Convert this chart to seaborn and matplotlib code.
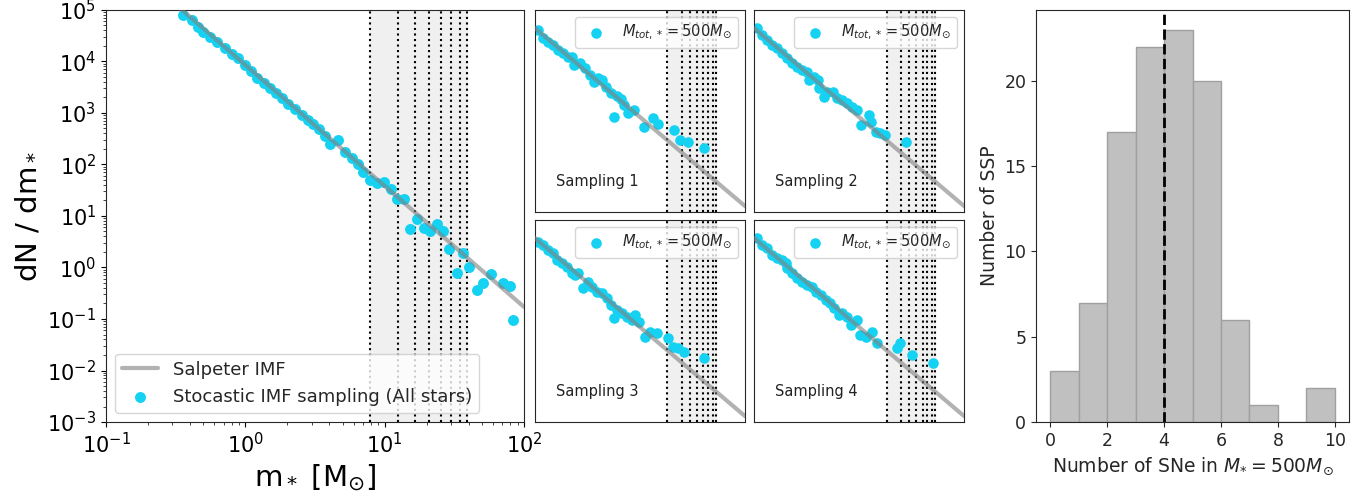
import matplotlib
matplotlib.use("Agg")
import matplotlib.pyplot as plt
from matplotlib.ticker import LogLocator
import numpy as np
import pandas as pd
import seaborn as sns

# ---- data (log10 of mass and of dN/dm) ----
log_m_all = [-0.445, -0.385, -0.338, -0.302, -0.254, -0.201, -0.146, -0.098, -0.050, -0.002,
             0.039, 0.086, 0.134, 0.177, 0.220, 0.261, 0.308, 0.356, 0.405, 0.452,
             0.488, 0.531, 0.572, 0.608, 0.667, 0.715, 0.763, 0.811, 0.847, 0.895,
             0.943, 0.995, 1.043, 1.086, 1.139, 1.182, 1.234, 1.282, 1.325, 1.374,
             1.421, 1.464, 1.517, 1.564, 1.607, 1.661, 1.704, 1.761, 1.847, 1.900, 1.923]
log_dn_all = [4.903, 4.806, 4.676, 4.579, 4.482, 4.384, 4.256, 4.140, 4.062, 3.932,
              3.816, 3.685, 3.588, 3.480, 3.383, 3.297, 3.169, 3.072, 2.961, 2.864,
              2.781, 2.689, 2.559, 2.392, 2.476, 2.249, 2.120, 2.004, 1.860, 1.699,
              1.635, 1.666, 1.518, 1.324, 1.330, 0.748, 0.936, 0.773, 0.709, 0.845,
              0.715, 0.359, -0.101, 0.287, 0.016, -0.437, -0.307, -0.126, -0.307, -0.359, -1.019]

log_m_s1 = [-0.952, -0.881, -0.810, -0.738, -0.667, -0.595, -0.524, -0.467, -0.438, -0.357,
            -0.286, -0.214, -0.152, -0.095, -0.038, 0.010, 0.086, 0.167, 0.229, 0.276,
            0.129, 0.333, 0.419, 0.562, 0.690, 0.752, 0.990, 1.071, 1.181, 1.419]
log_dn_s1 = [4.208, 3.878, 3.746, 3.614, 3.416, 3.284, 3.152, 3.152, 2.822, 2.888,
             2.690, 2.426, 2.162, 2.294, 2.228, 1.964, 1.700, 1.594, 1.462, 1.238,
             0.776, 0.908, 1.040, 0.353, 0.710, 0.472, 0.248, -0.149, -0.241, -0.465]

log_m_s2 = [-0.952, -0.881, -0.810, -0.738, -0.667, -0.595, -0.524, -0.452, -0.381, -0.310,
            -0.238, -0.214, -0.143, -0.086, -0.071, 0.000, 0.048, 0.133, 0.190, 0.262,
            0.333, 0.405, 0.476, 0.524, 0.643, 0.667, 0.738, 0.800, 0.871, 1.176]
log_dn_s2 = [4.274, 4.010, 3.812, 3.614, 3.482, 3.284, 3.086, 2.888, 2.756, 2.624,
             2.558, 2.228, 2.360, 2.228, 1.898, 1.568, 1.766, 1.766, 1.502, 1.436,
             1.304, 1.172, 1.040, 0.446, 0.842, 0.578, 0.182, 0.116, 0.050, -0.241]

log_m_s3 = [-0.952, -0.881, -0.810, -0.738, -0.690, -0.619, -0.548, -0.476, -0.429, -0.381,
            -0.310, -0.238, -0.190, -0.119, -0.048, 0.024, 0.086, 0.129, 0.167, 0.238,
            0.310, 0.381, 0.429, 0.486, 0.571, 0.643, 0.738, 0.895, 0.976, 1.048, 1.133, 1.419]
log_dn_s3 = [4.142, 4.010, 3.812, 3.680, 3.416, 3.284, 3.152, 2.888, 2.822, 2.888,
             2.294, 2.558, 2.360, 2.162, 2.096, 1.898, 1.634, 1.106, 1.436, 1.304,
             1.172, 1.040, 1.238, 0.974, 0.380, 0.578, 0.512, 0.314, -0.016, -0.082, -0.241, -0.465]

log_m_s4 = [-0.952, -0.881, -0.810, -0.738, -0.667, -0.595, -0.548, -0.524, -0.452, -0.381,
            -0.310, -0.238, -0.167, -0.119, -0.048, 0.024, 0.086, 0.143, 0.214, 0.262,
            0.333, 0.381, 0.476, 0.514, 0.595, 0.690, 0.752, 1.038, 1.081, 1.262, 1.557]
log_dn_s4 = [4.274, 4.010, 3.878, 3.614, 3.482, 3.416, 3.284, 3.086, 2.888, 2.690,
             2.558, 2.426, 2.360, 2.162, 2.030, 1.832, 1.700, 1.502, 1.238, 1.304,
             1.172, 0.842, 1.040, 0.446, 0.380, 0.578, 0.142, -0.082, 0.142, -0.346, -0.650]

# Salpeter IMF end points (straight line in log-log)
salpeter_mass = [0.1, 100.0]
salpeter_all = [1.921e6, 0.1712]
salpeter_ssp = [1.921e4, 1.712e-3]

# SN mass bin edges (dotted lines) and histogram
sn_mass_lines = [7.8, 12.4, 16.6, 20.9, 25.5, 29.9, 34.5, 38.8]
n_sne = [0, 1, 2, 3, 4, 5, 6, 7, 8, 9]
n_ssp = [3, 7, 17, 22, 23, 20, 6, 1, 0, 2]
mean_sne = 4

samplings = [(log_m_s1, log_dn_s1), (log_m_s2, log_dn_s2),
             (log_m_s3, log_dn_s3), (log_m_s4, log_dn_s4)]

cyan = "#15d2f2"

sns.set_style("ticks")
fig = plt.figure(figsize=(13.71, 4.99), dpi=100)


def imf_panel(ax, lm, ldn, line_y, label, size):
    ax.set_xscale("log")
    ax.set_yscale("log")
    ax.axvspan(sn_mass_lines[0], sn_mass_lines[-1], color="#f0f0f0", zorder=0)
    for m in sn_mass_lines:
        ax.axvline(m, color="k", ls=":", lw=1.5, zorder=1)
    sns.scatterplot(x=10 ** np.array(lm), y=10 ** np.array(ldn), ax=ax, color=cyan,
                    s=size, linewidth=0, label=label, zorder=2)
    ax.plot(salpeter_mass, line_y, color="gray", alpha=0.6, lw=3, zorder=3,
            label="Salpeter IMF" if label.startswith("Sto") else None)
    ax.set_xlim(0.1, 100)
    ax.set_ylim(1e-3, 1e5)


# main panel
ax0 = fig.add_axes([0.0773, 0.1543, 0.3049, 0.8257])
imf_panel(ax0, log_m_all, log_dn_all, salpeter_all,
          "Stocastic IMF sampling (All stars)", 62)
h, l = ax0.get_legend_handles_labels()
ax0.legend(h[::-1], l[::-1], loc="lower left", fontsize=13)
ax0.xaxis.set_major_locator(LogLocator(base=10, numticks=20))
ax0.yaxis.set_major_locator(LogLocator(base=10, numticks=20))
ax0.tick_params(labelsize=15, colors="black")
ax0.set_xlabel(r"m$_*$ [M$_{\odot}$]", fontsize=21, color="black")
ax0.set_ylabel(r"dN / dm$_*$", fontsize=21, color="black")

# sampling panels
small_pos = [[0.3902, 0.5752, 0.1532, 0.4048], [0.5500, 0.5752, 0.1532, 0.4048],
             [0.3902, 0.1543, 0.1532, 0.4048], [0.5500, 0.1543, 0.1532, 0.4048]]
for i, (pos, (lm, ldn)) in enumerate(zip(small_pos, samplings)):
    ax = fig.add_axes(pos)
    imf_panel(ax, lm, ldn, salpeter_ssp, r"$M_{tot,*}=500M_{\odot}$", 58)
    ax.legend(loc="upper right", fontsize=10.5)
    ax.set_xticks([])
    ax.set_xticks([], minor=True)
    ax.set_yticks([])
    ax.set_yticks([], minor=True)
    ax.set_xlabel("")
    ax.set_ylabel("")
    ax.text(0.10, 0.15, f"Sampling {i + 1}", transform=ax.transAxes,
            fontsize=10.5, va="center", color="#222222")

# histogram of SNe
axh = fig.add_axes([0.7557, 0.1543, 0.2283, 0.8257])
hist_df = pd.DataFrame({"sne": n_sne, "ssp": n_ssp})
sns.histplot(data=hist_df, x="sne", weights="ssp", bins=10, binrange=(0, 10), ax=axh,
             color="#c0c0c0", edgecolor="#a0a0a0", alpha=1, linewidth=1)
axh.axvline(mean_sne, color="k", ls="--", lw=2)
axh.set_xticks([0, 2, 4, 6, 8, 10])
axh.set_yticks([0, 5, 10, 15, 20])
axh.tick_params(labelsize=12.5)
axh.set_xlabel(r"Number of SNe in $M_{*}=500M_{\odot}$", fontsize=13.5)
axh.set_ylabel("Number of SSP", fontsize=13.5)

fig.savefig("out.png", dpi=100)
